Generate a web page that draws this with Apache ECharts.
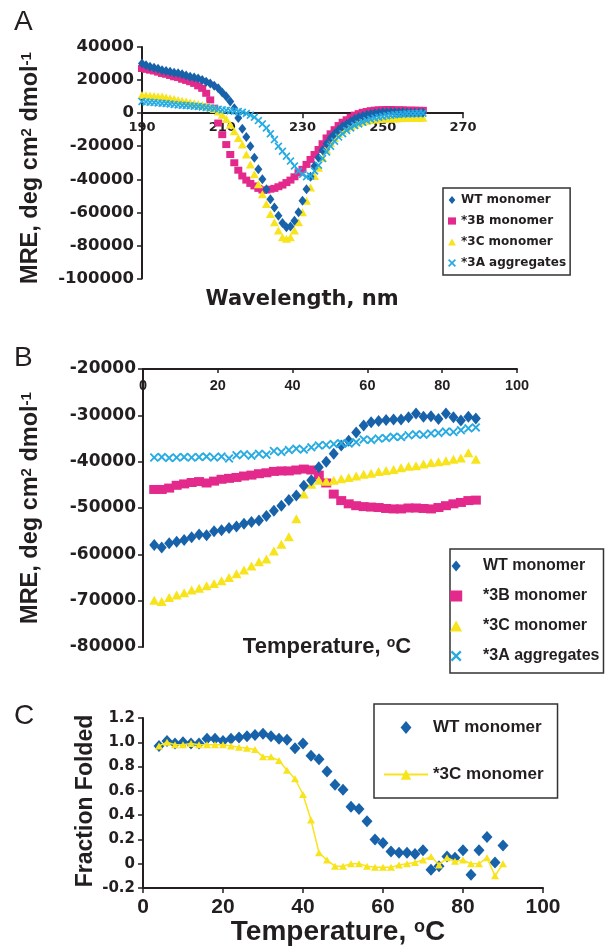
<!DOCTYPE html>
<html><head><meta charset="utf-8">
<script src="https://cdn.jsdelivr.net/npm/echarts@6/dist/echarts.min.js"></script>
<style>html,body{margin:0;padding:0;background:#fff}#c{width:609px;height:948px}</style>
</head><body><div id="c"></div>
<script>
// ---------- Panel A : CD spectra ----------
const A_NM = [190,191,192,193,194,195,196,197,198,199,200,201,202,203,204,205,206,207,208,209,
  210,211,212,213,214,215,216,217,218,219,220,221,222,223,224,225,226,227,228,229,
  230,231,232,233,234,235,236,237,238,239,240,241,242,243,244,245,246,247,248,249,
  250,251,252,253,254,255,256,257,258,259,260];
const A_WT = [30000,29000,28000,27500,26800,26000,25500,25000,24500,24200,
  23500,22800,22000,21500,21000,20000,19000,18000,16500,15000,
  12500,10000,7000,3000,-3000,-9500,-14500,-20000,-27000,-34000,
  -40000,-46000,-52000,-57000,-62000,-66500,-69000,-68500,-65000,-60000,
  -53000,-46000,-38500,-32000,-27000,-22500,-18500,-15000,-12500,-10000,
  -8000,-6500,-5000,-3500,-2500,-1800,-1000,-500,0,300,
  500,600,700,600,500,500,400,300,300,200,200];
const A_3B = [27000,26500,26000,25500,24800,24000,23500,22800,22000,21500,
  20500,19800,19000,18000,16500,15000,12000,8000,3000,-6000,
  -13000,-19000,-25000,-30000,-34500,-38000,-40500,-42500,-44000,-45500,
  -46500,-46500,-46000,-45500,-44500,-43500,-42000,-40500,-38500,-36000,
  -34000,-31000,-28000,-25000,-22000,-18500,-15000,-12500,-10000,-7500,
  -5500,-4000,-2500,-1200,-300,500,1000,1500,1800,2000,
  2000,2200,2200,2000,2000,2000,1800,1800,1800,1700,1700];
const A_3C = [11000,10800,10500,10300,10100,10000,9500,9000,8500,8000,
  7500,7000,6500,6000,5500,5000,4500,3500,2500,1000,
  -1000,-3500,-7000,-11000,-15000,-19000,-25000,-31000,-37000,-43000,
  -49000,-55000,-61000,-66000,-71000,-75000,-76000,-75000,-71000,-66000,
  -60000,-53000,-45000,-38000,-33000,-27000,-22000,-18000,-15000,-12500,
  -10500,-9000,-8000,-7000,-6000,-5200,-4600,-4200,-3800,-3500,
  -3400,-3300,-3200,-3200,-3100,-3000,-3000,-3000,-3000,-2900,-2800];
const A_3A = [7000,6800,6600,6400,6200,6000,5800,5500,5300,5000,
  4800,4600,4400,4200,4000,3700,3400,3100,2800,2400,
  2000,1700,1400,1200,1000,500,-200,-1200,-2500,-4500,
  -6500,-9000,-12500,-16000,-20000,-23000,-26000,-29000,-32000,-35000,
  -37000,-38500,-38000,-35000,-31500,-27500,-23500,-20000,-17000,-14500,
  -12500,-10500,-9000,-7500,-6500,-5500,-4500,-3700,-3000,-2500,
  -2000,-1600,-1300,-1000,-800,-600,-400,-300,-200,-100,0];

// ---------- Panel B : thermal melts (MRE) ----------
const B_T = [3,5,7,9,11,13,15,17,19,21,23,25,27,29,31,33,35,37,39,41,43,45,
  47,49,51,53,55,57,59,61,63,65,67,69,71,73,75,77,79,81,83,85,87,89];
const B_WT = [-58000,-58500,-57600,-57300,-56900,-56300,-55700,-55900,-55000,-54800,
  -54300,-54000,-53400,-53000,-52700,-51700,-50600,-49500,-48300,-47300,
  -45200,-44000,-41200,-40000,-38300,-36500,-35500,-33700,-32200,-31500,
  -31200,-31000,-30900,-30900,-30400,-29600,-30300,-30200,-30800,-29600,
  -30400,-31100,-30300,-30700];
const B_3B = [-46000,-46000,-45700,-45100,-44800,-44500,-44300,-44600,-44200,-43800,
  -43600,-43400,-43100,-42900,-42600,-42400,-42100,-42000,-42000,-41800,
  -41600,-41800,-42900,-44600,-47000,-48400,-49100,-49500,-49700,-49800,
  -49900,-50100,-50200,-50200,-50000,-50000,-50100,-50200,-49900,-49500,
  -49100,-48800,-48400,-48300];
const B_3C = [-69900,-70200,-69300,-68800,-68300,-67700,-67300,-66800,-66300,-65700,
  -65000,-64200,-63400,-62500,-61600,-61000,-59300,-57800,-56200,-52300,
  -47000,-44900,-44000,-44200,-44000,-43700,-43400,-43100,-42700,-42500,
  -42100,-41900,-41700,-41300,-41000,-40900,-40500,-40200,-40000,-39800,
  -39500,-39200,-38100,-39500];
const B_3A = [-39100,-39000,-39200,-39100,-39000,-39100,-39000,-38900,-39100,-38900,
  -39300,-38600,-38400,-38700,-38300,-38500,-37700,-37900,-37500,-37200,
  -37400,-36900,-36500,-36400,-36200,-36000,-36100,-35800,-35200,-35300,
  -35000,-34900,-34600,-34700,-34300,-34100,-34200,-33900,-33800,-33500,
  -33600,-33200,-32800,-32600];

// ---------- Panel C : fraction folded ----------
const C_T = [4,6,8,10,12,14,16,18,20,22,24,26,28,30,32,34,36,38,40,42,44,46,
  48,50,52,54,56,58,60,62,64,66,68,70,72,74,76,78,80,82,84,86,88,90];
const C_WT = [0.97,1.01,0.99,1.0,0.99,0.99,1.03,1.03,1.01,1.03,
  1.04,1.05,1.06,1.07,1.05,1.03,1.02,0.95,0.99,0.89,
  0.86,0.76,0.65,0.61,0.47,0.45,0.35,0.2,0.17,0.1,
  0.09,0.09,0.08,0.11,-0.05,-0.02,0.06,0.05,0.11,-0.09,
  0.11,0.22,0.01,0.15];
const C_3C = [0.97,1.0,0.98,0.98,0.99,0.98,0.98,0.98,0.98,0.97,
  0.96,0.95,0.94,0.88,0.88,0.85,0.77,0.7,0.57,0.36,
  0.09,0.03,-0.02,-0.02,0.0,0.0,-0.02,-0.03,-0.03,-0.03,
  -0.01,0.0,0.01,0.03,0.06,-0.01,0.05,0.02,0.03,0.0,
  0.0,0.05,-0.1,0.0];

const NAMES_A = ['WT monomer','*3B monomer','*3C monomer','*3A aggregates'];
const NAMES_C = ['WT monomer','*3C monomer'];
const A_YMIN = -100000, A_YMAX = 40000;

// ---------- styling ----------
const BLUE='#1862aa', PINK='#e3298b', YEL='#f8e41c', CYAN='#27abe2', TXT='#231f20';
const FD='DejaVu Sans', FL='Liberation Sans';
const XPATH='path://M0,1.5L1.5,0L5,3.5L8.5,0L10,1.5L6.5,5L10,8.5L8.5,10L5,6.5L1.5,10L0,8.5L3.5,5Z';
const DIAM='path://M5,0L10,6L5,12L0,6Z';
const RECT='path://M0,0H10V9H0Z';
const TRI='path://M5,0L10,9H0Z';
const pair=(xs,ys)=>xs.map((x,i)=>[x,ys[i]]);
const lab=(f,s,extra)=>Object.assign({color:TXT,fontFamily:f,fontWeight:'bold',fontSize:s},extra||{});
const line={show:true,onZero:false,lineStyle:{color:TXT,width:2}};
const tick=(inside,len)=>({show:true,inside:inside,length:len,lineStyle:{color:TXT,width:1.5}});

function sc(name,gi,xs,ys,symbol,size,color){
  return {name:name,type:'scatter',xAxisIndex:gi,yAxisIndex:gi,data:pair(xs,ys),
    symbol:symbol,symbolSize:size,symbolKeepAspect:false,itemStyle:{color:color,opacity:1},silent:true};
}
const GA={left:142,top:47,width:321,height:231.5};

const option={
  animation:false,
  backgroundColor:'#fff',
  grid:[
    Object.assign({containLabel:false,outerBoundsMode:'none'},GA),
    {left:143,top:369,width:374,height:278,containLabel:false,outerBoundsMode:'none'},
    {left:143,top:718,width:400,height:170,containLabel:false,outerBoundsMode:'none'}
  ],
  xAxis:[
    {gridIndex:0,type:'value',min:190,max:270,interval:20,position:'bottom',
      offset:-GA.height*(0-A_YMIN)/(A_YMAX-A_YMIN),
      axisLine:line,axisTick:tick(false,5),
      axisLabel:lab(FD,13,{margin:8}),splitLine:{show:false}},
    {gridIndex:1,type:'value',position:'top',min:0,max:100,interval:20,
      axisLine:line,axisTick:tick(true,4),
      axisLabel:lab(FL,14.5,{inside:true,margin:9}),splitLine:{show:false}},
    {gridIndex:2,type:'value',min:0,max:100,interval:20,
      axisLine:line,axisTick:tick(false,5),
      axisLabel:lab(FL,21,{margin:9}),splitLine:{show:false}}
  ],
  yAxis:[
    {gridIndex:0,type:'value',min:A_YMIN,max:A_YMAX,interval:20000,
      axisLine:line,axisTick:tick(false,5),
      axisLabel:lab(FD,16.5,{margin:8,formatter:v=>String(v)}),splitLine:{show:false}},
    {gridIndex:1,type:'value',min:-80000,max:-20000,interval:10000,
      axisLine:line,axisTick:tick(false,5),
      axisLabel:lab(FD,17,{margin:7,formatter:v=>String(v)}),splitLine:{show:false}},
    {gridIndex:2,type:'value',min:-0.2,max:1.2,interval:0.2,
      axisLine:line,axisTick:tick(false,5),
      axisLabel:lab(FD,15,{margin:8,formatter:v=>Math.abs(v)<1e-9?'0':v.toFixed(1)}),splitLine:{show:false}}
  ],
  legend:[
    {data:NAMES_A.map(n=>'A:'+n),orient:'vertical',left:443,top:188,padding:[6,4,6,5],
      itemWidth:8,itemHeight:8,itemGap:9,borderColor:'#333',borderWidth:1.5,selectedMode:false,
      symbolKeepAspect:true,formatter:n=>n.slice(2),textStyle:lab(FD,12,{lineHeight:12})},
    {data:NAMES_A.map(n=>'B:'+n),orient:'vertical',left:450,top:549,padding:[9,4,9,0],
      itemWidth:26,itemHeight:11,itemGap:14,borderColor:'#333',borderWidth:1.5,selectedMode:false,
      symbolKeepAspect:true,formatter:n=>'  '+n.slice(2),textStyle:lab(FL,16,{lineHeight:16})},
    {data:NAMES_C.map(n=>'C:'+n),orient:'vertical',left:374,top:704,padding:[15,14,15,9],
      itemWidth:44,itemHeight:13,itemGap:30,borderColor:'#333',borderWidth:1.5,selectedMode:false,
      symbolKeepAspect:true,formatter:n=>n.slice(2),textStyle:lab(FL,17,{lineHeight:14})}
  ],
  series:[
    sc('A:*3B monomer',0,A_NM,A_3B,RECT,[8,7],PINK),
    sc('A:*3C monomer',0,A_NM,A_3C,TRI,[9,8],YEL),
    sc('A:WT monomer',0,A_NM,A_WT,DIAM,[8,10],BLUE),
    sc('A:*3A aggregates',0,A_NM,A_3A,XPATH,8,CYAN),
    sc('B:*3B monomer',1,B_T,B_3B,RECT,[10,9],PINK),
    sc('B:*3C monomer',1,B_T,B_3C,TRI,[10,9],YEL),
    sc('B:WT monomer',1,B_T,B_WT,DIAM,[10,12],BLUE),
    sc('B:*3A aggregates',1,B_T,B_3A,XPATH,9,CYAN),
    sc('C:WT monomer',2,C_T,C_WT,DIAM,[11,12],BLUE),
    {name:'C:*3C monomer',type:'line',xAxisIndex:2,yAxisIndex:2,data:pair(C_T,C_3C),
      symbol:'triangle',symbolSize:[8,7],showSymbol:true,showAllSymbol:true,silent:true,
      lineStyle:{color:YEL,width:1.5},itemStyle:{color:YEL}}
  ],
  graphic:[
    {type:'text',x:14,y:8,style:{text:'A',font:'28px "Liberation Sans"',fill:TXT,verticalAlign:'top'}},
    {type:'text',x:14,y:344,style:{text:'B',font:'28px "Liberation Sans"',fill:TXT,verticalAlign:'top'}},
    {type:'text',x:14,y:702,style:{text:'C',font:'28px "Liberation Sans"',fill:TXT,verticalAlign:'top'}},
    {type:'text',x:31,y:168,rotation:Math.PI/2,style:{text:'MRE, deg cm{s|2} dmol{s|-1}',
      font:'bold 23.5px "Liberation Sans"',fill:TXT,align:'center',verticalAlign:'middle',
      rich:{s:{fontSize:15,fontFamily:FL,fontWeight:'bold',fill:TXT,verticalAlign:'top'}}}},
    {type:'text',x:31,y:508,rotation:Math.PI/2,style:{text:'MRE, deg cm{s|2} dmol{s|-1}',
      font:'bold 23.5px "Liberation Sans"',fill:TXT,align:'center',verticalAlign:'middle',
      rich:{s:{fontSize:15,fontFamily:FL,fontWeight:'bold',fill:TXT,verticalAlign:'top'}}}},
    {type:'text',x:86,y:801,rotation:Math.PI/2,style:{text:'Fraction Folded',
      font:'bold 23px "Liberation Sans"',fill:TXT,align:'center',verticalAlign:'middle'}},
    {type:'text',x:302,y:300,style:{text:'Wavelength, nm',font:'bold 21px "DejaVu Sans"',fill:TXT,align:'center',verticalAlign:'middle'}},
    {type:'text',x:327,y:647,style:{text:'Temperature, {s|o}C',font:'bold 22px "Liberation Sans"',fill:TXT,align:'center',verticalAlign:'middle',
      rich:{s:{fontSize:14,fontFamily:FL,fontWeight:'bold',fill:TXT,verticalAlign:'top'}}}},
    {type:'text',x:338,y:932,style:{text:'Temperature, {s|o}C',font:'bold 28px "Liberation Sans"',fill:TXT,align:'center',verticalAlign:'middle',
      rich:{s:{fontSize:18,fontFamily:FL,fontWeight:'bold',fill:TXT,verticalAlign:'top'}}}}
  ]
};
const chart=echarts.init(document.getElementById('c'),null,{renderer:'canvas',width:609,height:948});
chart.setOption(option);
</script></body></html>
